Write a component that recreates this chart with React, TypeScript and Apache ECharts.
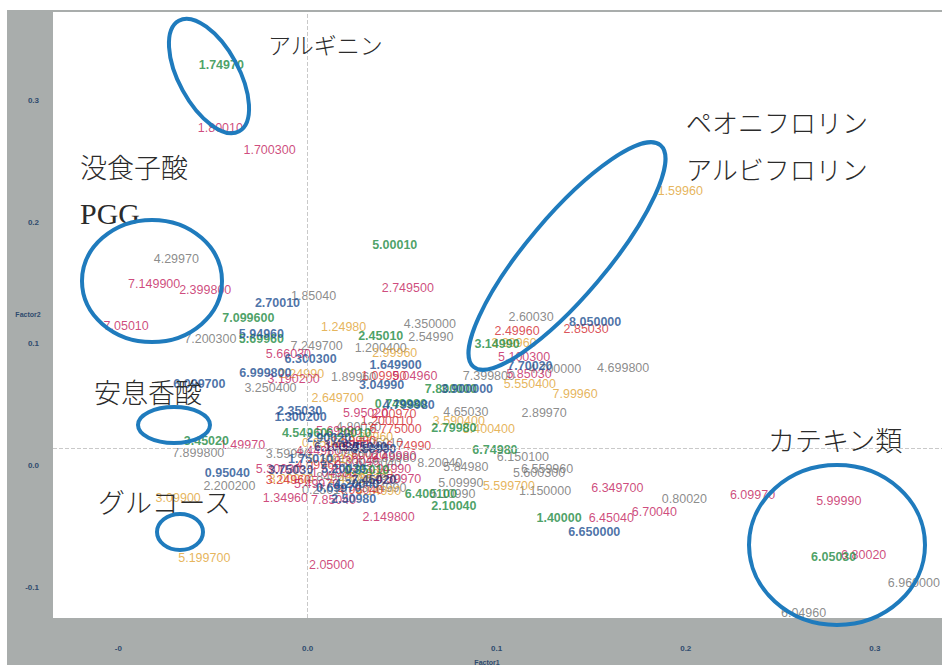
import React, { useEffect, useRef } from "react";
import * as echarts from "echarts";

type Pt = [string, number, number];

const greenPoints: Pt[] = [
  ["1.74970", -0.0456, 0.3156], ["5.00010", 0.0461, 0.1672], ["7.099600", -0.0313, 0.1074],
  ["5.69960", -0.0244, 0.0902], ["2.45010", 0.0387, 0.0926], ["7.800000", 0.0758, 0.0492],
  ["0.749980", 0.0493, 0.0369], ["3.14990", 0.1002, 0.0861], ["2.79980", 0.0774, 0.0172],
  ["6.74980", 0.0991, -0.0008], ["6.400100", 0.0652, -0.0377], ["2.10040", 0.0774, -0.0475],
  ["1.40000", 0.133, -0.0574], ["6.05030", 0.2782, -0.0893], ["3.45020", -0.0535, 0.0066],
  ["4.54960", -0.0016, 0.0131], ["0.85010", 0.0313, -0.018], ["6.20010", 0.0217, 0.0131],
];

const bluePoints: Pt[] = [
  ["2.70010", -0.0159, 0.1197], ["5.94960", -0.0244, 0.0943], ["6.300300", 0.0016, 0.0738],
  ["6.999800", -0.0223, 0.0623], ["1.649900", 0.0466, 0.0689], ["3.04990", 0.0392, 0.0525],
  ["3.900000", 0.0843, 0.0492], ["4.799980", 0.0535, 0.0361], ["8.050000", 0.1521, 0.1041],
  ["7.70020", 0.1176, 0.068], ["6.650000", 0.1516, -0.0689], ["0.95040", -0.0424, -0.0197],
  ["2.35030", -0.0042, 0.0311], ["1.300200", -0.0037, 0.0262], ["2.50980", 0.0244, -0.0418],
  ["6.099700", -0.0572, 0.0533], ["2.90020", 0.0111, 0.009], ["0.59990", 0.035, 0.0],
  ["5.20030", 0.0191, -0.0164], ["0.69970", 0.0164, -0.0328], ["4.20040", 0.026, -0.0295],
  ["1.75010", 0.0016, -0.0082],
];

const navyPoints: Pt[] = [
  ["3.75030", -0.009, -0.0172], ["6.10030", 0.0154, 0.0016], ["7.45020", 0.035, -0.0262],
  ["5.75040", 0.0302, 0.0016],
];

const magentaPoints: Pt[] = [
  ["1.80010", -0.0461, 0.2639], ["1.700300", -0.0201, 0.2459], ["2.749500", 0.053, 0.132],
  ["7.149900", -0.0811, 0.1352], ["2.399800", -0.0541, 0.1303], ["7.05010", -0.0959, 0.1008],
  ["5.66030", -0.0101, 0.0779], ["3.190200", -0.0074, 0.0574], ["5.04960", 0.0567, 0.0598],
  ["5.100300", 0.1145, 0.0754], ["5.85030", 0.1171, 0.0615], ["6.349700", 0.1638, -0.032],
  ["6.45040", 0.1606, -0.0574], ["6.70040", 0.1834, -0.0525], ["6.09970", 0.2353, -0.0385],
  ["5.99990", 0.2809, -0.0434], ["6.80020", 0.2941, -0.0877], ["2.149800", 0.0429, -0.0566],
  ["2.05000", 0.0127, -0.0959], ["1.49970", -0.0344, 0.0033], ["1.34960", -0.0117, -0.041],
  ["5.30030", -0.0154, -0.0164], ["5.95020", 0.0307, 0.0295], ["7.85040", 0.0138, -0.0426],
  ["5.69990", 0.0164, 0.0148], ["4.44980", 0.0058, -0.0016], ["2.30040", 0.026, -0.0098],
  ["3.94990", 0.0429, -0.0164], ["5.49970", 0.0048, -0.0295], ["1.04980", 0.0138, -0.0197],
  ["0.49980", 0.0456, -0.0057], ["3.44960", 0.0207, 0.0033], ["4.59970", 0.0482, -0.0246],
];

const redPoints: Pt[] = [
  ["1.09990", 0.0403, 0.0598], ["2.00970", 0.0456, 0.0287], ["1.200010", 0.0419, 0.023],
  ["6.775000", 0.0466, 0.0164], ["6.74990", 0.0535, 0.0025], ["3.24960", -0.0101, -0.0262],
  ["2.49960", 0.1108, 0.0967], ["2.85030", 0.1473, 0.0984], ["1.59990", 0.0244, 0.0066],
  ["4.09960", 0.0058, -0.0139], ["4.95040", 0.0281, -0.0344], ["7.60020", 0.0297, -0.0049],
];

const grayPoints: Pt[] = [
  ["4.29970", -0.0694, 0.1557], ["1.85040", 0.0032, 0.1254], ["7.200300", -0.0514, 0.0902],
  ["7.249700", 0.0048, 0.0844], ["3.250400", -0.0196, 0.05], ["1.89960", 0.0244, 0.059],
  ["2.54990", 0.0652, 0.0918], ["4.350000", 0.0647, 0.1025], ["1.200400", 0.0387, 0.0828],
  ["4.65030", 0.0837, 0.0303], ["2.89970", 0.1251, 0.0295], ["2.60030", 0.1182, 0.1082],
  ["4.700000", 0.1309, 0.0656], ["4.699800", 0.1669, 0.0664], ["7.399800", 0.0959, 0.0598],
  ["6.150100", 0.1139, -0.0066], ["6.559960", 0.1267, -0.0164], ["5.600300", 0.1224, -0.0197],
  ["5.84980", 0.0837, -0.0148], ["8.20040", 0.07, -0.0115], ["5.09990", 0.0811, -0.0279],
  ["1.150000", 0.1256, -0.0352], ["5.10990", 0.0768, -0.0377], ["0.80020", 0.1993, -0.0418],
  ["6.960000", 0.3206, -0.1107], ["6.04960", 0.2623, -0.1352], ["7.899800", -0.0578, -0.0033],
  ["3.59980", -0.0101, -0.0041], ["2.200200", -0.0413, -0.0311], ["3.89980", 0.0456, -0.0074],
  ["2.54970", 0.0376, -0.0254], ["4.80030", 0.027, 0.018], ["1.99980", 0.0217, -0.0033],
  ["6.55040", 0.0376, -0.0115], ["2.84960", 0.0111, -0.023], ["3.34990", 0.0403, -0.0328],
  ["2.15030", 0.0191, -0.0115], ["7.95010", 0.0387, 0.0049], ["0.25010", 0.009, -0.0344],
];

const goldPoints: Pt[] = [
  ["1.59960", 0.1971, 0.2115], ["1.24980", 0.0191, 0.1], ["2.24990", -0.0032, 0.0615],
  ["2.99960", 0.0461, 0.0787], ["2.649700", 0.0159, 0.0418], ["3.99960", 0.1092, 0.0869],
  ["5.550400", 0.1176, 0.0533], ["7.99960", 0.1415, 0.0451], ["3.590400", 0.08, 0.023],
  ["5.400400", 0.0959, 0.0164], ["5.599700", 0.1065, -0.0311], ["5.199700", -0.0546, -0.0902],
  ["3.09900", -0.0684, -0.041], ["3.00000", -0.0085, -0.025], ["4.14990", 0.0376, -0.0352],
  ["3.29960", 0.0334, 0.0098], ["3.70010", 0.0122, -0.0082], ["1.45030", 0.0228, -0.0246],
  ["0.65030", 0.009, 0.0049], ["6.89980", 0.0334, -0.0213],
];

const xTicks = [-0.1, 0, 0.1, 0.2, 0.3];
const xTickLabels = ["-0", "0.0", "0.1", "0.2", "0.3"];
const yTicks = [-0.1, 0, 0.1, 0.2, 0.3];
const yTickLabels = ["-0.1", "0.0", "0.1", "0.2", "0.3"];

const annotations: [string, number, number, number][] = [
  ["アルギニン", 268, 44, 23],
  ["ペオニフロリン", 686, 121, 26],
  ["アルビフロリン", 686, 168, 26],
  ["没食子酸", 80, 166, 27],
  ["安息香酸", 94, 391, 27],
  ["グルコース", 98, 501, 27],
  ["カテキン類", 768, 439, 27],
];

// cx, cy, rx, ry, rotation
const circles: [number, number, number, number, number][] = [
  [209, 76, 30, 63, 0.5],
  [152, 281, 70, 61, 0],
  [567, 256, 145, 40, 0.87],
  [174, 425, 36, 18, 0],
  [180, 532, 23, 18, 0],
  [837, 545, 88, 80, 0],
];

function tickLabel(ticks: number[], labels: string[], v: number) {
  const i = ticks.findIndex((t) => Math.abs(t - v) < 1e-6);
  return i >= 0 ? labels[i] : "";
}

function makeSeries(name: string, pts: Pt[], color: string, bold: boolean) {
  return {
    type: "scatter",
    name,
    symbol: "circle",
    symbolSize: 1,
    silent: true,
    itemStyle: { color: "transparent" },
    data: pts.map((p) => ({ name: p[0], value: [p[1], p[2]] })),
    label: {
      show: true,
      formatter: "{b}",
      position: "inside",
      align: "center",
      verticalAlign: "middle",
      color,
      fontSize: 12.5,
      fontWeight: bold ? "bold" : "normal",
      fontFamily: "Liberation Sans, Arial, sans-serif",
    },
  };
}

export default function App() {
  const ref = useRef<HTMLDivElement>(null);
  useEffect(() => {
    if (!ref.current) return;
    const chart = echarts.init(ref.current, undefined, { renderer: "svg" });
    const series: any[] = [
      makeSeries("gray", grayPoints, "#6e6e6e", false),
      makeSeries("gold", goldPoints, "#e0a232", false),
      makeSeries("red", redPoints, "#d2262c", false),
      makeSeries("magenta", magentaPoints, "#c21a5c", false),
      makeSeries("green", greenPoints, "#1d8a3f", true),
      makeSeries("blue", bluePoints, "#1d4f91", true),
      makeSeries("navy", navyPoints, "#2b2f70", true),
    ];
    series[0].markLine = {
      silent: true,
      symbol: ["none", "none"],
      label: { show: false },
      lineStyle: { color: "#c9c9c9", type: "dashed", width: 1 },
      data: [{ xAxis: 0 }, { yAxis: 0 }],
    };
    const graphics: any[] = [];
    annotations.forEach(([t, x, y, s]) => {
      graphics.push({
        type: "text",
        x,
        y,
        z: 100,
        style: {
          text: t,
          fontSize: s,
          fontFamily: "Noto Sans CJK JP",
          fontWeight: 300,
          fill: "#2b2b2b",
          verticalAlign: "middle",
          align: "left",
        },
      });
    });
    graphics.push({
      type: "text",
      x: 80,
      y: 213,
      z: 100,
      style: {
        text: "PGG",
        fontSize: 30,
        fontFamily: "Liberation Serif, DejaVu Serif, serif",
        fill: "#2b2b2b",
        verticalAlign: "middle",
      },
    });
    circles.forEach(([cx, cy, rx, ry, rot]) => {
      graphics.push({
        type: "ellipse",
        x: cx,
        y: cy,
        rotation: rot,
        z: 101,
        shape: { cx: 0, cy: 0, rx, ry },
        style: { fill: "none", stroke: "#1f7bbd", lineWidth: 4 },
      });
    });
    graphics.push({
      type: "text",
      x: 28,
      y: 314,
      z: 100,
      style: { text: "Factor2", fontSize: 7, fontFamily: "Liberation Sans, Arial", fill: "#2f4b6e", align: "center", verticalAlign: "middle", fontWeight: "bold" },
    });
    graphics.push({
      type: "text",
      x: 487,
      y: 662,
      z: 100,
      style: { text: "Factor1", fontSize: 7, fontFamily: "Liberation Sans, Arial", fill: "#2f4b6e", align: "center", verticalAlign: "middle", fontWeight: "bold" },
    });

    chart.setOption({
      animation: false,
      grid: {
        left: 53,
        right: 0,
        top: 12,
        bottom: 49,
        show: true,
        backgroundColor: "#ffffff",
        borderWidth: 0,
      },
      xAxis: {
        type: "value",
        min: -0.1346,
        max: 0.3355,
        axisLine: { show: false },
        axisTick: { show: false },
        splitLine: { show: false },
        axisLabel: {
          customValues: xTicks,
          formatter: (v: number) => tickLabel(xTicks, xTickLabels, v),
          margin: 26,
          fontSize: 8,
          fontWeight: "bold",
          color: "#2f4b6e",
          fontFamily: "Liberation Sans, Arial",
        },
      },
      yAxis: {
        type: "value",
        min: -0.1393,
        max: 0.359,
        axisLine: { show: false },
        axisTick: { show: false },
        splitLine: { show: false },
        axisLabel: {
          customValues: yTicks,
          formatter: (v: number) => tickLabel(yTicks, yTickLabels, v),
          margin: 14,
          fontSize: 8,
          fontWeight: "bold",
          color: "#2f4b6e",
          fontFamily: "Liberation Sans, Arial",
          verticalAlign: "top",
          lineHeight: 34,
        },
      },
      series,
      graphic: graphics,
    });
    return () => chart.dispose();
  }, []);

  return (
    <div style={{ position: "fixed", left: 0, top: 0, width: 942, height: 667, background: "#ffffff" }}>
      <div style={{ position: "absolute", left: 7, top: 10, width: 935, height: 655, background: "#a9adac" }} />
      <div ref={ref} style={{ position: "absolute", left: 0, top: 0, width: 942, height: 667 }} />
    </div>
  );
}
